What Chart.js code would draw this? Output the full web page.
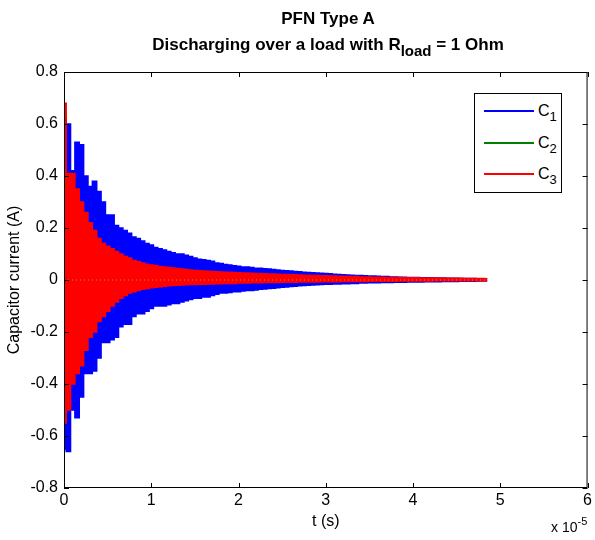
<!DOCTYPE html>
<html>
<head>
<meta charset="utf-8">
<script src="https://cdn.jsdelivr.net/npm/chart.js@4"></script>
<style>
  body { margin: 0; background: #fff; }
  #wrap { position: relative; width: 595px; height: 540px; font-family: 'Liberation Sans', Arial, sans-serif; color: #000; }
  #chart { position: absolute; left: 0; top: 0; }
  .title { position: absolute; left: 64px; width: 528px; text-align: center; font-weight: bold; font-size: 17px; white-space: nowrap; }
  .title sub { font-size: 15px; vertical-align: -6px; line-height: 0; }
  #legend { position: absolute; left: 474px; top: 93px; width: 88px; height: 100px; border: 1px solid #000; background: #fff; box-sizing: border-box; }
  .lg { position: absolute; left: 9px; width: 50px; height: 2px; }
  .lt { position: absolute; left: 63px; font-size: 16px; line-height: 16px; }
  .lt sub { font-size: 13px; vertical-align: -5px; line-height: 0; }
  #expo { position: absolute; left: 551px; top: 519px; font-size: 14px; white-space: nowrap; }
  #expo sup { font-size: 11px; vertical-align: 7px; line-height: 0; }
</style>
</head>
<body>
<div id="wrap">
  <canvas id="chart" width="595" height="540"></canvas>
  <div class="title" style="top:9px">PFN Type A</div>
  <div class="title" style="top:35px">Discharging over a load with R<sub>load</sub> = 1 Ohm</div>
  <div id="legend">
    <div class="lg" style="top:16px;background:#0000ff"></div>
    <div class="lt" style="top:9px">C<sub>1</sub></div>
    <div class="lg" style="top:48px;background:#008000"></div>
    <div class="lt" style="top:41px">C<sub>2</sub></div>
    <div class="lg" style="top:79px;background:#ff0000"></div>
    <div class="lt" style="top:72px">C<sub>3</sub></div>
  </div>
  <div id="expo">x 10<sup>-5</sup></div>
</div>
<script>
// sample times, in units of 1e-5 s (axis shows "x 10^-5")
const sampleTimes = [
  0, 0.05, 0.1, 0.15, 0.2, 0.25, 0.3, 0.35, 0.4, 0.45,
  0.5, 0.55, 0.6, 0.65, 0.7, 0.75, 0.8, 0.85, 0.9, 0.95,
  1.0, 1.05, 1.1, 1.15, 1.2, 1.25, 1.3, 1.35, 1.4, 1.45,
  1.5, 1.55, 1.6, 1.65, 1.7, 1.75, 1.8, 1.85, 1.9, 1.95,
  2.0, 2.05, 2.1, 2.15, 2.2, 2.25, 2.3, 2.35, 2.4, 2.45,
  2.5, 2.55, 2.6, 2.65, 2.7, 2.75, 2.8, 2.85, 2.9, 2.95,
  3.0, 3.05, 3.1, 3.15, 3.2, 3.25, 3.3, 3.35, 3.4, 3.45,
  3.5, 3.55, 3.6, 3.65, 3.7, 3.75, 3.8, 3.85, 3.9, 3.95,
  4.0, 4.05, 4.1, 4.15, 4.2, 4.25, 4.3, 4.35, 4.4, 4.45,
  4.5, 4.55, 4.6, 4.65, 4.7, 4.75, 4.8, 4.85
];

// C1 ringing: upper peaks / lower troughs (A)
const c1Peaks = [
  0.62, 0.60, 0.42, 0.53, 0.52, 0.40, 0.36, 0.38, 0.34, 0.30,
  0.25, 0.25, 0.21, 0.20, 0.19, 0.18, 0.165, 0.16, 0.15, 0.14,
  0.135, 0.125, 0.12, 0.115, 0.11, 0.105, 0.10, 0.10, 0.095, 0.09,
  0.085, 0.08, 0.078, 0.075, 0.072, 0.065, 0.063, 0.06, 0.058, 0.055,
  0.053, 0.05, 0.05, 0.048, 0.045, 0.045, 0.043, 0.042, 0.04, 0.038,
  0.037, 0.036, 0.035, 0.033, 0.032, 0.03, 0.029, 0.028, 0.027, 0.026,
  0.025, 0.024, 0.022, 0.021, 0.02, 0.019, 0.018, 0.017, 0.017, 0.016,
  0.015, 0.015, 0.014, 0.013, 0.013, 0.012, 0.012, 0.011, 0.011, 0.01,
  0.01, 0.01, 0.009, 0.009, 0.009, 0.008, 0.008, 0.008, 0.007, 0.007,
  0.007, 0.006, 0.006, 0.006, 0.006, 0.005, 0.005, 0.005
];
const c1Troughs = [
  -0.65, -0.66, -0.50, -0.53, -0.45, -0.36, -0.36, -0.35, -0.30, -0.24,
  -0.24, -0.23, -0.22, -0.18, -0.17, -0.17, -0.14, -0.13, -0.13, -0.12,
  -0.11, -0.10, -0.10, -0.10, -0.095, -0.09, -0.09, -0.085, -0.08, -0.075,
  -0.07, -0.07, -0.065, -0.065, -0.06, -0.055, -0.05, -0.05, -0.048, -0.045,
  -0.045, -0.042, -0.04, -0.04, -0.038, -0.036, -0.035, -0.033, -0.032, -0.03,
  -0.028, -0.027, -0.025, -0.024, -0.022, -0.021, -0.02, -0.019, -0.018, -0.017,
  -0.016, -0.016, -0.015, -0.015, -0.014, -0.014, -0.013, -0.013, -0.012, -0.012,
  -0.011, -0.011, -0.011, -0.01, -0.01, -0.01, -0.009, -0.009, -0.009, -0.008,
  -0.008, -0.008, -0.008, -0.007, -0.007, -0.007, -0.007, -0.006, -0.006, -0.006,
  -0.006, -0.005, -0.005, -0.005, -0.005, -0.004, -0.004, -0.004
];

// C3 ringing: upper peaks / lower troughs (A)
const c3Peaks = [
  0.68, 0.41, 0.41, 0.35, 0.30, 0.26, 0.22, 0.19, 0.16, 0.14,
  0.13, 0.12, 0.11, 0.10, 0.09, 0.085, 0.075, 0.07, 0.065, 0.06,
  0.058, 0.055, 0.052, 0.05, 0.048, 0.046, 0.044, 0.042, 0.04, 0.038,
  0.037, 0.036, 0.035, 0.034, 0.033, 0.032, 0.031, 0.03, 0.03, 0.029,
  0.028, 0.027, 0.027, 0.026, 0.025, 0.025, 0.024, 0.023, 0.023, 0.022,
  0.021, 0.021, 0.02, 0.02, 0.019, 0.018, 0.018, 0.017, 0.017, 0.016,
  0.016, 0.015, 0.015, 0.014, 0.014, 0.013, 0.013, 0.013, 0.012, 0.012,
  0.012, 0.011, 0.011, 0.011, 0.01, 0.01, 0.01, 0.01, 0.009, 0.009,
  0.009, 0.009, 0.008, 0.008, 0.008, 0.008, 0.008, 0.007, 0.007, 0.007,
  0.007, 0.007, 0.006, 0.006, 0.006, 0.006, 0.006, 0.005
];
const c3Troughs = [
  -0.55, -0.50, -0.40, -0.36, -0.33, -0.27, -0.22, -0.20, -0.16, -0.14,
  -0.12, -0.10, -0.085, -0.07, -0.06, -0.05, -0.045, -0.04, -0.036, -0.033,
  -0.03, -0.028, -0.026, -0.024, -0.022, -0.021, -0.02, -0.019, -0.018, -0.017,
  -0.017, -0.016, -0.016, -0.015, -0.015, -0.014, -0.014, -0.013, -0.013, -0.013,
  -0.012, -0.012, -0.012, -0.011, -0.011, -0.011, -0.01, -0.01, -0.01, -0.01,
  -0.009, -0.009, -0.009, -0.009, -0.008, -0.008, -0.008, -0.008, -0.008, -0.007,
  -0.007, -0.007, -0.007, -0.007, -0.006, -0.006, -0.006, -0.006, -0.006, -0.006,
  -0.005, -0.005, -0.005, -0.005, -0.005, -0.005, -0.005, -0.004, -0.004, -0.004,
  -0.004, -0.004, -0.004, -0.004, -0.004, -0.003, -0.003, -0.003, -0.003, -0.003,
  -0.003, -0.003, -0.003, -0.003, -0.003, -0.003, -0.003, -0.003
];

// C2 stays at ~0 the whole time
const c2Times  = [0, 1, 2, 3, 4, 4.85];
const c2Values = [0, 0, 0, 0, 0, 0];

const xTicks = [0, 1, 2, 3, 4, 5, 6];
const yTicks = [-0.8, -0.6, -0.4, -0.2, 0, 0.2, 0.4, 0.6, 0.8];

function toPoints(times, vals) {
    return times.map((t, i) => ({ x: t, y: vals[i] }));
}

// ── box + inward ticks like matlab ──
const matlabBox = {
    id: 'matlabBox',
    afterDatasetsDraw(chart) {
        const { ctx, chartArea: a, scales: { x, y } } = chart;
        ctx.save();
        ctx.strokeStyle = '#000';
        ctx.lineWidth = 1;
        ctx.strokeRect(a.left + 0.5, a.top + 0.5, a.right - a.left - 1, a.bottom - a.top - 1);
        ctx.beginPath();
        xTicks.forEach(v => {
            const px = Math.round(x.getPixelForValue(v)) + 0.5;
            ctx.moveTo(px, a.bottom); ctx.lineTo(px, a.bottom - 5);
            ctx.moveTo(px, a.top);    ctx.lineTo(px, a.top + 5);
        });
        yTicks.forEach(v => {
            const py = Math.round(y.getPixelForValue(v)) + 0.5;
            ctx.moveTo(a.left, py);  ctx.lineTo(a.left + 5, py);
            ctx.moveTo(a.right, py); ctx.lineTo(a.right - 5, py);
        });
        ctx.stroke();
        ctx.restore();
    }
};

const tickFont = { family: "'Liberation Sans', Arial, sans-serif", size: 16 };

// the ringing is too fast to resolve at this size, so each current is drawn
// as the band between its peaks and troughs (what the original plot shows)
new Chart(document.getElementById('chart'), {
    type: 'line',
    data: {
        datasets: [
            {
                label: 'C1',
                data: toPoints(sampleTimes, c1Peaks),
                borderColor: '#0000ff',
                backgroundColor: '#0000ff',
                borderWidth: 1.5,
                stepped: 'middle',
                fill: '+1',
                order: 5
            },
            {
                label: 'C1 troughs',
                data: toPoints(sampleTimes, c1Troughs),
                borderColor: '#0000ff',
                borderWidth: 1.5,
                stepped: 'middle',
                fill: false,
                order: 4
            },
            {
                label: 'C3',
                data: toPoints(sampleTimes, c3Peaks),
                borderColor: '#ff0000',
                backgroundColor: '#ff0000',
                borderWidth: 1.5,
                stepped: 'middle',
                fill: '+1',
                order: 3
            },
            {
                label: 'C3 troughs',
                data: toPoints(sampleTimes, c3Troughs),
                borderColor: '#ff0000',
                borderWidth: 1.5,
                stepped: 'middle',
                fill: false,
                order: 2
            },
            {
                label: 'C2',
                data: toPoints(c2Times, c2Values),
                borderColor: '#b49a3c',
                borderWidth: 1,
                borderDash: [1, 3],
                fill: false,
                order: 1
            }
        ]
    },
    options: {
        responsive: false,
        animation: false,
        events: [],
        elements: { point: { radius: 0 }, line: { tension: 0 } },
        layout: { padding: { left: 0, top: 72, right: 3, bottom: 0 } },
        plugins: { legend: { display: false }, tooltip: { enabled: false } },
        scales: {
            x: {
                type: 'linear',
                min: 0,
                max: 6,
                afterFit: s => { s.height = 52; },
                afterBuildTicks: s => { s.ticks = xTicks.map(v => ({ value: v })); },
                ticks: { color: '#000', font: tickFont, padding: 3, maxRotation: 0 },
                grid: { display: false, drawTicks: false },
                border: { display: false },
                title: { display: true, text: 't (s)', color: '#000', font: tickFont, padding: { top: 0, bottom: 9 } }
            },
            y: {
                min: -0.8,
                max: 0.8,
                afterFit: s => { s.width = 64; },
                afterBuildTicks: s => { s.ticks = yTicks.map(v => ({ value: v })); },
                ticks: {
                    color: '#000',
                    font: tickFont,
                    padding: 6,
                    callback: v => String(Math.round(v * 10) / 10)
                },
                grid: { display: false, drawTicks: false },
                border: { display: false },
                title: { display: true, text: 'Capacitor current (A)', color: '#000', font: tickFont, padding: { top: 5, bottom: 0 } }
            }
        }
    },
    plugins: [matlabBox]
});
</script>
</body>
</html>
